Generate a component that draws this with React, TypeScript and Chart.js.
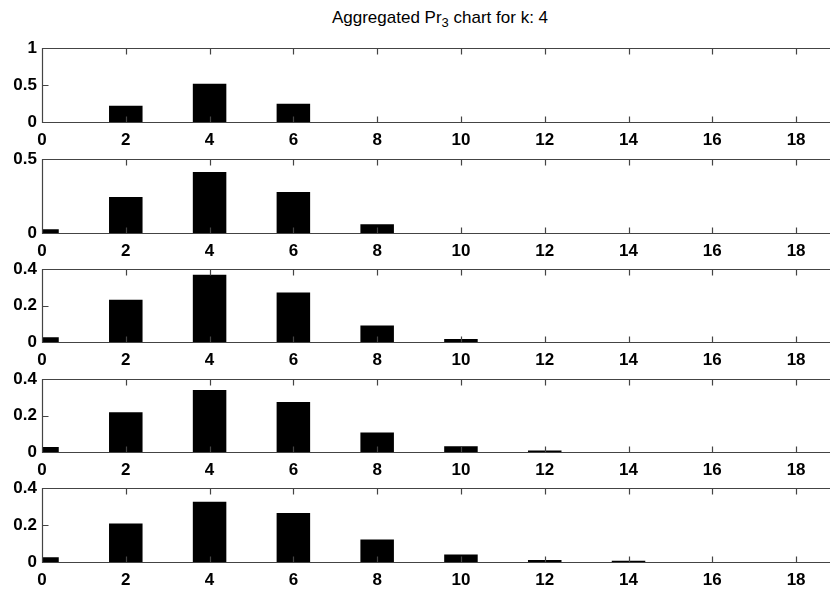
import React, { useEffect, useRef } from "react";
import { Chart, registerables } from "chart.js";

Chart.register(...registerables);

// Bin centres shared by every panel
const BINS = [0, 2, 4, 6, 8, 10, 12, 14, 16, 18];
const X_TICKS = [0, 2, 4, 6, 8, 10, 12, 14, 16, 18];

// Aggregated probabilities, one row per panel
const PANEL_1 = [0, 0.22, 0.518, 0.246, 0, 0, 0, 0, 0, 0];
const PANEL_2 = [0.026, 0.244, 0.414, 0.277, 0.059, 0, 0, 0, 0, 0];
const PANEL_3 = [0.026, 0.232, 0.37, 0.272, 0.09, 0.017, 0, 0, 0, 0];
const PANEL_4 = [0.027, 0.219, 0.34, 0.275, 0.107, 0.031, 0.008, 0, 0, 0];
const PANEL_5 = [0.026, 0.208, 0.326, 0.265, 0.122, 0.04, 0.011, 0.007, 0, 0];

const Y_MAX = [1, 0.5, 0.4, 0.4, 0.4];
const Y_TICKS = [
  [0, 0.5, 1],
  [0, 0.5],
  [0, 0.2, 0.4],
  [0, 0.2, 0.4],
  [0, 0.2, 0.4],
];
const X_MAX = 19;

const PANELS = [PANEL_1, PANEL_2, PANEL_3, PANEL_4, PANEL_5];

// Panel placement (px)
const PANEL_TOPS = [45, 156, 266, 376, 485];
const PANEL_HEIGHTS = [77, 77, 76, 76, 77];
const PAD_TOP = 12;
const X_AXIS_H = 28;
const Y_AXIS_W = 42;
const CANVAS_W = 838;

const AXIS_COLOR = "#444444";
const FONT = { family: "'Liberation Sans', Arial, Helvetica, sans-serif", size: 17, weight: "bold" as const };

// Box around the plotting area with inward-pointing tick marks
const framePlugin = {
  id: "frame",
  afterDraw(chart: any) {
    const { ctx, chartArea: a, scales } = chart;
    const tick = 6;
    ctx.save();
    ctx.strokeStyle = AXIS_COLOR;
    ctx.lineWidth = 1.2;
    const L = Math.round(a.left) + 0.5;
    const R = Math.round(a.right) - 0.5;
    const T = Math.round(a.top) + 0.5;
    const B = Math.round(a.bottom) + 0.5;
    ctx.beginPath();
    ctx.moveTo(L, T);
    ctx.lineTo(R, T);
    ctx.lineTo(R, B);
    ctx.lineTo(L, B);
    ctx.closePath();
    for (const t of scales.x.ticks) {
      const px = Math.round(scales.x.getPixelForValue(t.value)) + 0.5;
      ctx.moveTo(px, T);
      ctx.lineTo(px, T + tick);
      ctx.moveTo(px, B);
      ctx.lineTo(px, B - tick);
    }
    for (const t of scales.y.ticks) {
      const py = Math.round(scales.y.getPixelForValue(t.value)) + 0.5;
      ctx.moveTo(L, py);
      ctx.lineTo(L + tick, py);
      ctx.moveTo(R, py);
      ctx.lineTo(R - tick, py);
    }
    ctx.stroke();
    ctx.restore();
  },
};

function Panel({ index }: { index: number }) {
  const ref = useRef<HTMLCanvasElement | null>(null);
  const height = PAD_TOP + PANEL_HEIGHTS[index] + X_AXIS_H;

  useEffect(() => {
    if (!ref.current) return;
    const values = PANELS[index];
    const chart = new Chart(ref.current, {
      type: "bar",
      data: {
        datasets: [
          {
            data: BINS.map((x, i) => ({ x, y: values[i] })),
            backgroundColor: "#000000",
            borderWidth: 0,
            categoryPercentage: 0.4,
            barPercentage: 1,
            clip: 0,
          },
        ],
      },
      options: {
        responsive: false,
        animation: false,
        events: [],
        layout: { padding: { top: PAD_TOP, left: 0, right: 0, bottom: 0 } },
        plugins: { legend: { display: false }, tooltip: { enabled: false }, title: { display: false } },
        scales: {
          x: {
            type: "linear",
            offset: false,
            min: 0,
            max: X_MAX,
            grid: { display: false, drawTicks: false, offset: false },
            border: { display: false },
            ticks: {
              color: "#000",
              font: FONT,
              padding: 8,
              maxRotation: 0,
              autoSkip: false,
              callback: (v: any) => String(v),
            },
            afterBuildTicks: (s: any) => {
              s.ticks = X_TICKS.map((v) => ({ value: v }));
            },
            afterFit: (s: any) => {
              s.height = X_AXIS_H;
            },
          },
          y: {
            type: "linear",
            min: 0,
            max: Y_MAX[index],
            grid: { display: false, drawTicks: false },
            border: { display: false },
            ticks: { color: "#000", font: FONT, padding: 5, callback: (v: any) => String(v) },
            afterBuildTicks: (s: any) => {
              s.ticks = Y_TICKS[index].map((v) => ({ value: v }));
            },
            afterFit: (s: any) => {
              s.width = Y_AXIS_W;
            },
          },
        },
      },
      plugins: [framePlugin],
    });
    return () => chart.destroy();
  }, [index]);

  return (
    <canvas
      ref={ref}
      width={CANVAS_W}
      height={height}
      style={{ position: "absolute", left: 0, top: PANEL_TOPS[index] - PAD_TOP, width: CANVAS_W, height }}
    />
  );
}

export default function App() {
  return (
    <div
      style={{
        position: "fixed",
        left: 0,
        top: 0,
        width: 830,
        height: 589,
        overflow: "hidden",
        background: "#ffffff",
      }}
    >
      <div
        style={{
          position: "absolute",
          left: 0,
          width: 880,
          top: 8,
          textAlign: "center",
          fontFamily: "'Liberation Sans', Arial, Helvetica, sans-serif",
          fontSize: 17,
          color: "#000",
          whiteSpace: "nowrap",
        }}
      >
        Aggregated Pr<sub style={{ fontSize: 13 }}>3</sub> chart for k: 4
      </div>
      {[0, 1, 2, 3, 4].map((i) => (
        <Panel key={i} index={i} />
      ))}
    </div>
  );
}
